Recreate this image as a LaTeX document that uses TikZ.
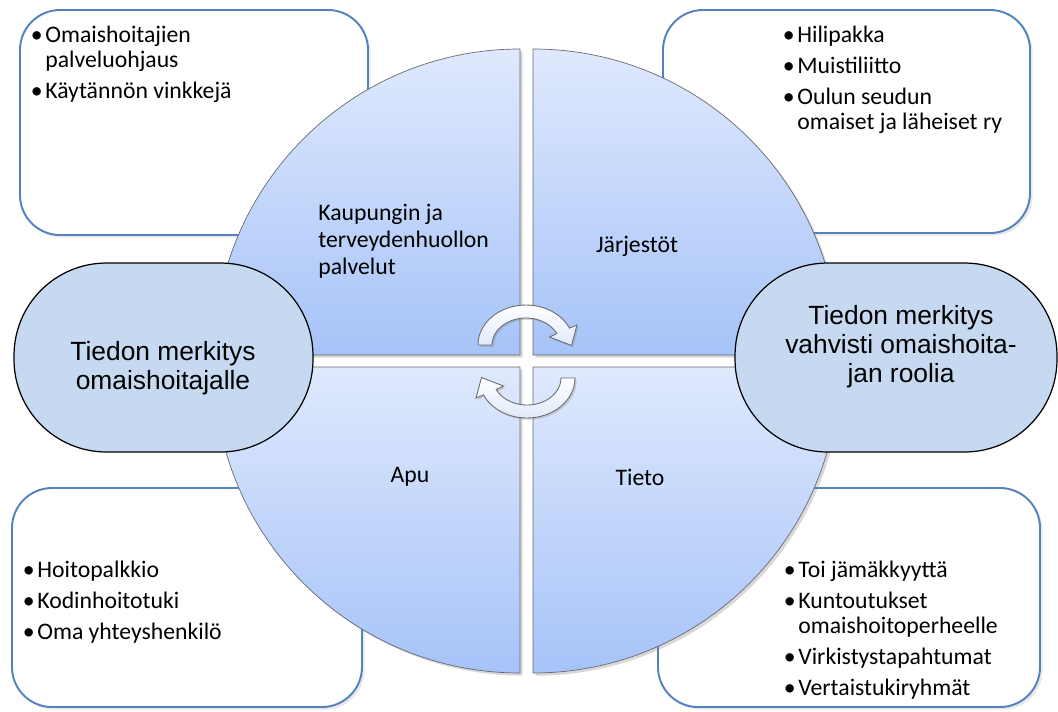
\documentclass[tikz,border=0pt]{standalone}
\usepackage{fontspec}
\setmainfont{Carlito}
\newfontfamily\ovalfont{Liberation Sans}
\usepackage{tikz}
\usetikzlibrary{shadows}
\definecolor{qlight}{RGB}{223,233,253}
\definecolor{qdark}{RGB}{166,195,248}
\definecolor{ovalfill}{RGB}{198,217,241}
\definecolor{boxline}{RGB}{84,130,190}
\definecolor{qline}{RGB}{105,105,115}
\newcommand{\bl}{\makebox[0pt][r]{\textbullet\kern1.5pt}}

\begin{document}
\begin{tikzpicture}[x=0.02cm,y=-0.02cm,
  infobox/.style={draw=boxline,line width=1.1pt,fill=white,rounded corners=0.8cm,
    drop shadow={opacity=0.18,shadow xshift=1.5pt,shadow yshift=-1.5pt}},
  lst/.style={anchor=north west,align=left,inner sep=0pt,font=\fontsize{13.5}{14.2}\selectfont},
  quad/.style={draw=qline,line width=0.4pt,top color=qlight,bottom color=qdark,
    drop shadow={opacity=0.3,shadow xshift=1.5pt,shadow yshift=-1.5pt}},
  qlab/.style={align=left,inner sep=0pt,font=\fontsize{13.5}{15.3}\selectfont},
  oval/.style={draw=black,line width=0.7pt,fill=ovalfill,rounded corners=1.85cm},
  ovallab/.style={align=center,inner sep=0pt,font=\ovalfont\fontsize{15}{16.5}\selectfont},
  cyclearrow/.style={draw=gray!85!black,line width=0.5pt,top color=white,bottom color=qlight,
    drop shadow={opacity=0.3,shadow xshift=1pt,shadow yshift=-1pt}}]
\useasboundingbox[fill=white] (0,0) rectangle (1058,711);

% corner boxes
\draw[infobox] (20,10) rectangle (368,235);
\draw[infobox] (663,10) rectangle (1030,233);
\draw[infobox] (12,488) rectangle (362,707);
\draw[infobox] (658,488) rectangle (1040,707);

\node[lst] (tlist) at (45,26) {\bl Omaishoitajien\\palveluohjaus\\[3.4pt]\bl Käytännön vinkkejä};
\node[lst] (trlist) at (797,26) {\bl Hilipakka\\[3.4pt]\bl Muistiliitto\\[3.4pt]\bl Oulun seudun\\omaiset ja läheiset ry};
\node[lst] (bllist) at (37,561) {\bl Hoitopalkkio\\[3.4pt]\bl Kodinhoitotuki\\[3.4pt]\bl Oma yhteyshenkilö};
\node[lst] (brlist) at (798,561) {\bl Toi jämäkkyyttä\\[3.4pt]\bl Kuntoutukset\\omaishoitoperheelle\\[3.4pt]\bl Virkistystapahtumat\\[3.4pt]\bl Vertaistukiryhmät};

% circle in four parts
\path[quad] (520,355) -- ++(-306,0) arc[start angle=180,end angle=270,radius=306] -- cycle;
\path[quad] (533,355) -- ++(0,-306) arc[start angle=270,end angle=360,radius=306] -- cycle;
\path[quad] (520,367) -- ++(-306,0) arc[start angle=180,end angle=90,radius=306] -- cycle;
\path[quad] (533,367) -- ++(306,0) arc[start angle=0,end angle=90,radius=306] -- cycle;

\node[qlab,anchor=north west] (kaup) at (318,204) {Kaupungin ja\\terveydenhuollon\\palvelut};
\node[qlab] (jarj) at (637,246) {Järjestöt};
\node[qlab] (apu) at (410,477) {Apu};
\node[qlab] (tieto) at (640,477) {Tieto};

\foreach \r in {0,180}{
  \begin{scope}[rotate around={\r:(526.5,361.5)}]
    \path[cyclearrow] (478,345) arc[start angle=180,end angle=335,x radius=48,y radius=40]
      -- (577,325) -- (571.5,345.5) -- (549.5,337) -- (556.8,333.6)
      arc[start angle=335,end angle=180,x radius=34,y radius=27] -- cycle;
  \end{scope}
}

% side ovals
\node[oval,minimum width=5.98cm,minimum height=3.78cm] (lefto) at (163.5,357.5) {};
\node[ovallab] (lefttxt) at (163,368) {Tiedon merkitys\\omaishoitajalle};
\node[oval,minimum width=6.44cm,minimum height=3.78cm] (righto) at (896,357.5) {};
\node[ovallab] (righttxt) at (901,347) {Tiedon merkitys\\vahvisti omaishoita-\\jan roolia};
\end{tikzpicture}
\end{document}
